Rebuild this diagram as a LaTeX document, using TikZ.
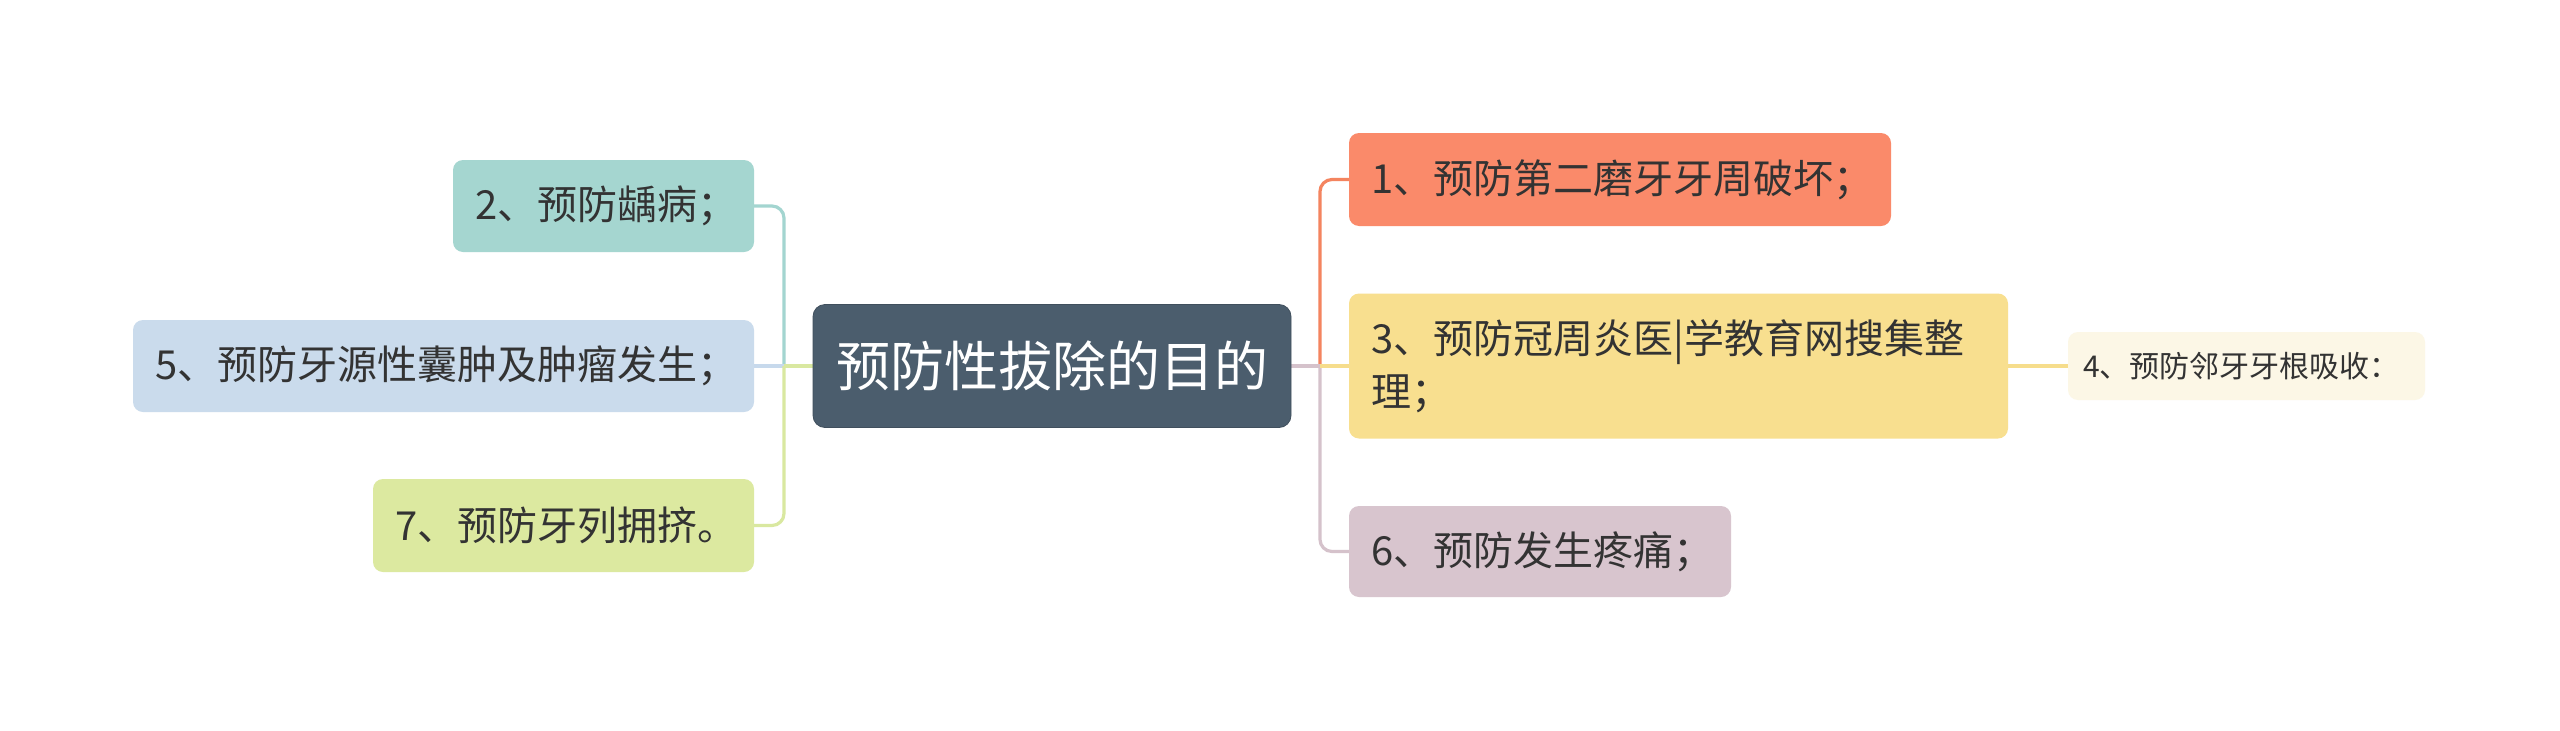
\documentclass[tikz,border=0pt]{standalone}
\usepackage{fontspec}
\newfontfamily\cjk{Noto Sans CJK SC}
\usetikzlibrary{backgrounds}
\definecolor{centralc}{HTML}{4B5D6D}
\definecolor{txt}{HTML}{333333}
\definecolor{f1}{HTML}{FA8A6A}
\definecolor{f3}{HTML}{F8DF8F}
\definecolor{f6}{HTML}{D8C5CE}
\definecolor{f4}{HTML}{FCF7E6}
\definecolor{f2}{HTML}{A5D6D0}
\definecolor{f5}{HTML}{CADBEC}
\definecolor{f7}{HTML}{DCE9A0}
\definecolor{l1}{HTML}{F4845F}
\definecolor{l3}{HTML}{F6DD8C}
\definecolor{l6}{HTML}{D5C2CB}
\definecolor{l2}{HTML}{A3D5D0}
\definecolor{l5}{HTML}{C7D9EC}
\definecolor{l7}{HTML}{D9E8A0}
\begin{document}
\begin{tikzpicture}[x=1pt,y=-1pt,
  box/.style={rounded corners=10, inner xsep=22, inner ysep=0, align=left, text=txt,
    font=\cjk\fontsize{40}{53}\selectfont},
  smallbox/.style={rounded corners=10, inner xsep=15, inner ysep=0, align=left, text=txt,
    font=\cjk\fontsize{30}{38}\selectfont},
  centralbox/.style={rounded corners=12, inner xsep=0, inner ysep=0, align=center, text=white,
    font=\cjk\fontsize{54}{62}\selectfont, fill=centralc, draw=centralc!85!black, line width=0.8},
  link/.style={line width=3.2}]
\useasboundingbox (0,0) rectangle (2560,731);

\node[centralbox, minimum width=478, minimum height=123] (c) at (1052,366) {预防性拔除的目的};

\node[box, fill=f1, text width=498, minimum height=93] (n1) at (1620,179.5) {1、预防第二磨牙牙周破坏；};
\node[box, fill=f3, text width=615, minimum height=145] (n3) at (1678.5,366) {3、预防冠周炎医|学教育网搜集整\\理；};
\node[box, fill=f6, text width=338, minimum height=91] (n6) at (1540,551.5) {6、预防发生疼痛；};
\node[smallbox, fill=f4, text width=327, minimum height=68] (n4) at (2246.5,366) {4、预防邻牙牙根吸收：};

\node[box, fill=f2, text width=257, minimum height=92] (n2) at (603.5,206) {2、预防龋病；};
\node[box, fill=f5, text width=577, minimum height=92] (n5) at (443.5,366) {5、预防牙源性囊肿及肿瘤发生；};
\node[box, fill=f7, text width=337, minimum height=93] (n7) at (563.5,525.5) {7、预防牙列拥挤。};

\coordinate (jr) at (1320,366);
\coordinate (jl) at (784,366);

\begin{scope}[on background layer]
  \fill[white] (0,0) rectangle (2560,731);
  \draw[link, l3] (n3.east) -- (n4.west);
  \draw[link, l1, rounded corners=12] (jr) |- (n1.west);
  \draw[link, l6, rounded corners=12] (jr) |- (n6.west);
  \draw[link, l3] (jr) -- (n3.west);
  \draw[link, l6] (c.east) -- (jr);
  \draw[link, l2, rounded corners=12] (jl) |- (n2.east);
  \draw[link, l5] (n5.east) -- (jl);
  \draw[link, l7, rounded corners=12] (jl) |- (n7.east);
  \draw[link, l7] (c.west) -- (jl);
\end{scope}
\end{tikzpicture}
\end{document}
